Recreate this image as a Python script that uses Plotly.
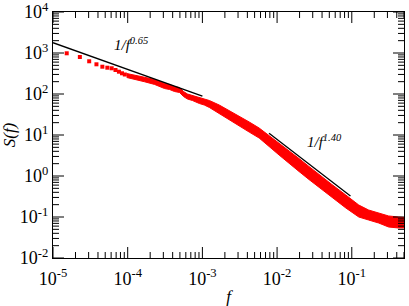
import math
import plotly.graph_objects as go

# sparse low-frequency points
f_low = [1.526e-5, 2.289e-5, 3.052e-5, 3.815e-5, 4.578e-5, 5.341e-5,
         6.104e-5, 6.866e-5, 7.629e-5, 8.392e-5, 9.155e-5]
S_low = [984, 799, 628, 530, 463, 438, 424, 385, 350, 320, 299]

# dense region: band of points (upper / lower envelope)
f_band = [9.7e-5, 1.24e-4, 1.68e-4, 2.29e-4, 3.11e-4, 3.63e-4, 4.23e-4, 4.94e-4,
          5.58e-4, 6.31e-4, 7.35e-4, 9.12e-4, 1.06e-3, 1.24e-3, 1.68e-3, 2.29e-3,
          3.11e-3, 4.23e-3, 5.75e-3, 7.82e-3, 1.063e-2, 1.445e-2, 1.965e-2, 2.67e-2,
          3.63e-2, 5.41e-2, 8.32e-2, 0.124, 0.168, 0.229, 0.311, 0.423, 0.5]
S_upper = [316, 283, 256, 226, 180, 171, 152, 144,
           115, 100, 91.9, 82.2, 75.5, 69.4, 53.9, 39.6,
           29.1, 20.8, 14.8, 9.72, 6.38, 4.19, 2.67, 1.71,
           1.09, 0.621, 0.344, 0.196, 0.148, 0.125, 0.106, 0.100, 0.0973]
S_lower = [253, 226, 199, 171, 136, 129, 115, 109,
           86.9, 75.5, 69.4, 58.6, 53.9, 46.9, 34.4, 23.9,
           16.6, 11.8, 8.45, 5.24, 3.25, 2.02, 1.29, 0.822,
           0.525, 0.299, 0.166, 0.100, 0.0845, 0.0714, 0.0570, 0.0540, 0.054]

# guide lines
fit1_f = [1e-5, 1e-3]
fit1_S = [1780, 89]
fit2_f = [0.0078, 0.096]
fit2_S = [11.0, 0.327]

x_decades = [-5, -4, -3, -2, -1]
y_decades = [-2, -1, 0, 1, 2, 3, 4]
X_RANGE = [-5, -0.301]
Y_RANGE = [-2, 4]

RED = "#ff0000"
FONT = "Liberation Serif"


def label(e):
    return "<span style='font-size:18px'>10</span><sup>%d</sup>" % e


fig = go.Figure()
fig.add_trace(go.Scatter(
    x=f_band + f_band[::-1], y=S_upper + S_lower[::-1],
    mode="lines", fill="toself", fillcolor=RED,
    line=dict(color=RED, width=1), hoverinfo="skip", showlegend=False))
fig.add_trace(go.Scatter(
    x=f_low, y=S_low, mode="markers",
    marker=dict(symbol="square", size=4, color=RED, line=dict(width=0)),
    showlegend=False))
fig.add_trace(go.Scatter(x=fit1_f, y=fit1_S, mode="lines",
                         line=dict(color="black", width=1.3), showlegend=False))
fig.add_trace(go.Scatter(x=fit2_f, y=fit2_S, mode="lines",
                         line=dict(color="black", width=1.3), showlegend=False))

axis_common = dict(
    type="log", showgrid=False, zeroline=False, showline=True, automargin=False,
    linecolor="black", linewidth=1.2, mirror=True,
    ticks="", ticklabeloverflow="allow",
    tickfont=dict(family=FONT, size=18, color="black"),
)

fig.update_xaxes(**axis_common, range=X_RANGE, ticklabelstandoff=4,
                 tickvals=[10.0 ** e for e in x_decades],
                 ticktext=[label(e) for e in x_decades],
                 title=dict(text="<i>f</i>", font=dict(family=FONT, size=17, color="black")))
fig.update_yaxes(**axis_common, range=Y_RANGE,
                 tickvals=[10.0 ** e for e in y_decades],
                 ticktext=[label(e) for e in y_decades],
                 title=dict(text="<i>S(f)</i>", font=dict(family=FONT, size=17, color="black")))

# inside ticks (major + minor) on all four sides, positioned from the axis ranges
PLOT_W, PLOT_H = 351.0, 246.0
MAJ, MIN = 11.0, 6.0
tick_line = dict(color="black", width=1)
for d in x_decades + [0]:
    for m in range(1, 10):
        v = m * 10.0 ** d
        lv = math.log10(v)
        if lv < X_RANGE[0] - 1e-9 or lv > X_RANGE[1]:
            continue
        px = (lv - X_RANGE[0]) / (X_RANGE[1] - X_RANGE[0])
        ln = (MAJ if m == 1 else MIN) / PLOT_H
        fig.add_shape(type="line", xref="paper", yref="paper", x0=px, x1=px, y0=0, y1=ln, line=tick_line)
        fig.add_shape(type="line", xref="paper", yref="paper", x0=px, x1=px, y0=1, y1=1 - ln, line=tick_line)
for d in y_decades:
    for m in range(1, 10):
        v = m * 10.0 ** d
        lv = math.log10(v)
        if lv > Y_RANGE[1] + 1e-9:
            continue
        py = (lv - Y_RANGE[0]) / (Y_RANGE[1] - Y_RANGE[0])
        ln = (MAJ if m == 1 else MIN) / PLOT_W
        fig.add_shape(type="line", xref="paper", yref="paper", x0=0, x1=ln, y0=py, y1=py, line=tick_line)
        fig.add_shape(type="line", xref="paper", yref="paper", x0=1, x1=1 - ln, y0=py, y1=py, line=tick_line)

fig.add_annotation(xref="paper", yref="paper", x=0.168, y=0.87,
                   xanchor="left", yanchor="middle",
                   text="<i>1/f<sup>0.65</sup></i>", showarrow=False,
                   font=dict(family=FONT, size=15, color="black"))
fig.add_annotation(xref="paper", yref="paper", x=0.718, y=0.476,
                   xanchor="left", yanchor="middle",
                   text="<i>1/f<sup>1.40</sup></i>", showarrow=False,
                   font=dict(family=FONT, size=15, color="black"))

fig.update_layout(
    width=409, height=306,
    margin=dict(l=53, r=5, t=12, b=48),
    paper_bgcolor="white", plot_bgcolor="white",
    font=dict(family=FONT),
)

fig.write_html("out.html", config={"displayModeBar": False},
               post_script="document.body.style.margin='0';document.body.style.padding='0';")
